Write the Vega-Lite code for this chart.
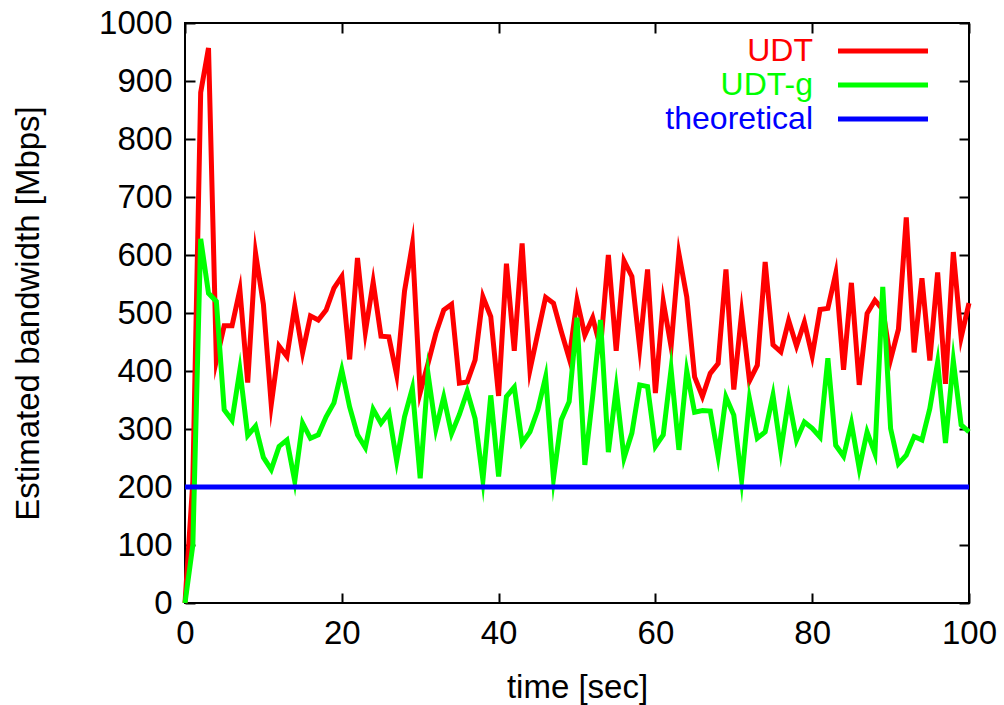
{
  "$schema": "https://vega.github.io/schema/vega-lite/v6.json",
  "width": 784,
  "height": 580,
  "autosize": {"type": "none"},
  "padding": {"left": 185, "top": 23, "right": 35, "bottom": 102},
  "background": "white",
  "config": {
    "font": "Liberation Sans",
    "view": {"stroke": "black", "strokeWidth": 2},
    "axis": {"labelColor": "black", "titleColor": "black", "tickColor": "black", "domain": false, "grid": false, "titleFontWeight": "normal", "labelFont": "Liberation Sans", "titleFont": "Liberation Sans"}
  },
  "data": {"values": [
    {"t":0,"UDT":0,"UDT-g":0,"theoretical":200},
    {"t":1,"UDT":210,"UDT-g":100,"theoretical":200},
    {"t":2,"UDT":880,"UDT-g":628,"theoretical":200},
    {"t":3,"UDT":957,"UDT-g":534,"theoretical":200},
    {"t":4,"UDT":418,"UDT-g":520,"theoretical":200},
    {"t":5,"UDT":478,"UDT-g":333,"theoretical":200},
    {"t":6,"UDT":478,"UDT-g":315,"theoretical":200},
    {"t":7,"UDT":540,"UDT-g":402,"theoretical":200},
    {"t":8,"UDT":380,"UDT-g":289,"theoretical":200},
    {"t":9,"UDT":603,"UDT-g":305,"theoretical":200},
    {"t":10,"UDT":515,"UDT-g":251,"theoretical":200},
    {"t":11,"UDT":342,"UDT-g":230,"theoretical":200},
    {"t":12,"UDT":443,"UDT-g":270,"theoretical":200},
    {"t":13,"UDT":425,"UDT-g":281,"theoretical":200},
    {"t":14,"UDT":512,"UDT-g":210,"theoretical":200},
    {"t":15,"UDT":432,"UDT-g":310,"theoretical":200},
    {"t":16,"UDT":495,"UDT-g":284,"theoretical":200},
    {"t":17,"UDT":488,"UDT-g":290,"theoretical":200},
    {"t":18,"UDT":505,"UDT-g":321,"theoretical":200},
    {"t":19,"UDT":543,"UDT-g":345,"theoretical":200},
    {"t":20,"UDT":563,"UDT-g":402,"theoretical":200},
    {"t":21,"UDT":420,"UDT-g":338,"theoretical":200},
    {"t":22,"UDT":595,"UDT-g":290,"theoretical":200},
    {"t":23,"UDT":467,"UDT-g":268,"theoretical":200},
    {"t":24,"UDT":553,"UDT-g":334,"theoretical":200},
    {"t":25,"UDT":460,"UDT-g":310,"theoretical":200},
    {"t":26,"UDT":459,"UDT-g":328,"theoretical":200},
    {"t":27,"UDT":393,"UDT-g":245,"theoretical":200},
    {"t":28,"UDT":538,"UDT-g":321,"theoretical":200},
    {"t":29,"UDT":618,"UDT-g":370,"theoretical":200},
    {"t":30,"UDT":363,"UDT-g":215,"theoretical":200},
    {"t":31,"UDT":413,"UDT-g":395,"theoretical":200},
    {"t":32,"UDT":465,"UDT-g":300,"theoretical":200},
    {"t":33,"UDT":505,"UDT-g":355,"theoretical":200},
    {"t":34,"UDT":515,"UDT-g":292,"theoretical":200},
    {"t":35,"UDT":379,"UDT-g":325,"theoretical":200},
    {"t":36,"UDT":381,"UDT-g":365,"theoretical":200},
    {"t":37,"UDT":419,"UDT-g":318,"theoretical":200},
    {"t":38,"UDT":528,"UDT-g":212,"theoretical":200},
    {"t":39,"UDT":494,"UDT-g":358,"theoretical":200},
    {"t":40,"UDT":357,"UDT-g":218,"theoretical":200},
    {"t":41,"UDT":585,"UDT-g":356,"theoretical":200},
    {"t":42,"UDT":435,"UDT-g":372,"theoretical":200},
    {"t":43,"UDT":620,"UDT-g":276,"theoretical":200},
    {"t":44,"UDT":402,"UDT-g":295,"theoretical":200},
    {"t":45,"UDT":465,"UDT-g":333,"theoretical":200},
    {"t":46,"UDT":527,"UDT-g":390,"theoretical":200},
    {"t":47,"UDT":517,"UDT-g":215,"theoretical":200},
    {"t":48,"UDT":468,"UDT-g":316,"theoretical":200},
    {"t":49,"UDT":422,"UDT-g":347,"theoretical":200},
    {"t":50,"UDT":522,"UDT-g":492,"theoretical":200},
    {"t":51,"UDT":462,"UDT-g":238,"theoretical":200},
    {"t":52,"UDT":492,"UDT-g":356,"theoretical":200},
    {"t":53,"UDT":440,"UDT-g":488,"theoretical":200},
    {"t":54,"UDT":600,"UDT-g":260,"theoretical":200},
    {"t":55,"UDT":435,"UDT-g":370,"theoretical":200},
    {"t":56,"UDT":590,"UDT-g":250,"theoretical":200},
    {"t":57,"UDT":563,"UDT-g":293,"theoretical":200},
    {"t":58,"UDT":440,"UDT-g":376,"theoretical":200},
    {"t":59,"UDT":575,"UDT-g":373,"theoretical":200},
    {"t":60,"UDT":362,"UDT-g":270,"theoretical":200},
    {"t":61,"UDT":520,"UDT-g":290,"theoretical":200},
    {"t":62,"UDT":442,"UDT-g":403,"theoretical":200},
    {"t":63,"UDT":602,"UDT-g":264,"theoretical":200},
    {"t":64,"UDT":528,"UDT-g":400,"theoretical":200},
    {"t":65,"UDT":390,"UDT-g":329,"theoretical":200},
    {"t":66,"UDT":356,"UDT-g":332,"theoretical":200},
    {"t":67,"UDT":396,"UDT-g":331,"theoretical":200},
    {"t":68,"UDT":413,"UDT-g":253,"theoretical":200},
    {"t":69,"UDT":575,"UDT-g":355,"theoretical":200},
    {"t":70,"UDT":368,"UDT-g":324,"theoretical":200},
    {"t":71,"UDT":500,"UDT-g":212,"theoretical":200},
    {"t":72,"UDT":383,"UDT-g":352,"theoretical":200},
    {"t":73,"UDT":410,"UDT-g":284,"theoretical":200},
    {"t":74,"UDT":588,"UDT-g":295,"theoretical":200},
    {"t":75,"UDT":445,"UDT-g":358,"theoretical":200},
    {"t":76,"UDT":433,"UDT-g":263,"theoretical":200},
    {"t":77,"UDT":487,"UDT-g":352,"theoretical":200},
    {"t":78,"UDT":443,"UDT-g":281,"theoretical":200},
    {"t":79,"UDT":484,"UDT-g":312,"theoretical":200},
    {"t":80,"UDT":426,"UDT-g":301,"theoretical":200},
    {"t":81,"UDT":506,"UDT-g":286,"theoretical":200},
    {"t":82,"UDT":508,"UDT-g":422,"theoretical":200},
    {"t":83,"UDT":568,"UDT-g":272,"theoretical":200},
    {"t":84,"UDT":402,"UDT-g":253,"theoretical":200},
    {"t":85,"UDT":552,"UDT-g":310,"theoretical":200},
    {"t":86,"UDT":376,"UDT-g":232,"theoretical":200},
    {"t":87,"UDT":499,"UDT-g":295,"theoretical":200},
    {"t":88,"UDT":522,"UDT-g":258,"theoretical":200},
    {"t":89,"UDT":506,"UDT-g":545,"theoretical":200},
    {"t":90,"UDT":420,"UDT-g":301,"theoretical":200},
    {"t":91,"UDT":472,"UDT-g":240,"theoretical":200},
    {"t":92,"UDT":665,"UDT-g":255,"theoretical":200},
    {"t":93,"UDT":432,"UDT-g":287,"theoretical":200},
    {"t":94,"UDT":560,"UDT-g":281,"theoretical":200},
    {"t":95,"UDT":418,"UDT-g":335,"theoretical":200},
    {"t":96,"UDT":570,"UDT-g":415,"theoretical":200},
    {"t":97,"UDT":378,"UDT-g":276,"theoretical":200},
    {"t":98,"UDT":605,"UDT-g":418,"theoretical":200},
    {"t":99,"UDT":458,"UDT-g":307,"theoretical":200},
    {"t":100,"UDT":517,"UDT-g":295,"theoretical":200}
  ]},
  "transform": [{"fold": ["UDT", "UDT-g", "theoretical"], "as": ["series", "bw"]}],
  "layer": [
    {
      "mark": {"type": "line", "strokeWidth": 5, "strokeJoin": "miter", "strokeMiterLimit": 10},
      "encoding": {
        "x": {"field": "t", "type": "quantitative", "scale": {"domain": [0, 100], "nice": false, "zero": false},
          "axis": {"orient": "bottom", "values": [0, 20, 40, 60, 80, 100], "format": "d", "title": "time [sec]", "labelFontSize": 33, "titleFontSize": 33, "tickSize": -10, "tickWidth": 2, "labelPadding": 24, "titlePadding": 21, "labelFlush": false}},
        "y": {"field": "bw", "type": "quantitative", "scale": {"domain": [0, 1000], "nice": false},
          "axis": {"orient": "left", "values": [0, 100, 200, 300, 400, 500, 600, 700, 800, 900, 1000], "format": "d", "title": "Estimated bandwidth [Mbps]", "labelFontSize": 33, "titleFontSize": 33, "tickSize": -10, "tickWidth": 2, "labelPadding": 23, "titlePadding": 53, "labelFlush": false}},
        "color": {"field": "series", "type": "nominal",
          "scale": {"domain": ["UDT", "UDT-g", "theoretical"], "range": ["#ff0000", "#00ff00", "#0000ff"]},
          "legend": {"title": null, "orient": "none", "legendX": 468, "legendY": 11, "symbolType": "M-4.5,0H4.5", "symbolSize": 400, "symbolStrokeWidth": 5, "labelFontSize": 32, "labelFont": "Liberation Sans", "padding": 0, "rowPadding": 1, "labelLimit": 400,
            "encode": {
              "labels": {"update": {"align": {"value": "right"}, "x": {"value": 160}, "y": {"value": 17}, "fill": {"scale": "color", "field": "value"}}},
              "symbols": {"update": {"x": {"value": 230}, "y": {"value": 17}}}
            }}}
      }
    },
    {
      "mark": {"type": "point", "opacity": 0},
      "encoding": {
        "x": {"field": "t", "type": "quantitative", "axis": {"orient": "top", "values": [0, 20, 40, 60, 80, 100], "labels": false, "title": null, "tickSize": -10, "tickWidth": 2}},
        "y": {"field": "bw", "type": "quantitative", "axis": {"orient": "right", "values": [0, 100, 200, 300, 400, 500, 600, 700, 800, 900, 1000], "labels": false, "title": null, "tickSize": -10, "tickWidth": 2}}
      }
    }
  ],
  "resolve": {"axis": {"x": "independent", "y": "independent"}}
}
